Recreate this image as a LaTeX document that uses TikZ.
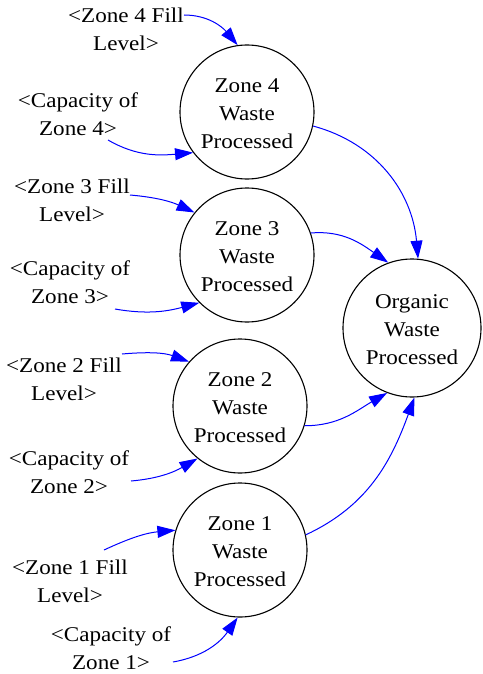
\documentclass[tikz,border=0pt]{standalone}
\usepackage{fontspec}
\setmainfont{Liberation Serif}[FakeStretch=1.1]
\usetikzlibrary{arrows.meta}
\definecolor{edgeblue}{RGB}{0,0,255}
\newcommand{\circtext}[1]{\raisebox{-3pt}[\height][\depth]{\begin{tabular}{@{}c@{}}#1\end{tabular}}}
\tikzset{
  lbl/.style={align=center, inner sep=0pt, font=\fontsize{21}{28}\selectfont},
  stock/.style={circle, draw=black, line width=1.1pt, minimum size=134pt, inner sep=0pt, align=center, font=\fontsize{21}{28}\selectfont},
  link/.style={draw=edgeblue, line width=1pt, -{Triangle[length=18pt,width=12pt]}}
}
\begin{document}
\begin{tikzpicture}[x=1pt,y=1pt]
\useasboundingbox (0,0) rectangle (482,-674);
% stocks
\node[stock] (z4) at (247,-112) {\circtext{Zone 4\\Waste\\Processed}};
\node[stock] (z3) at (247,-255) {\circtext{Zone 3\\Waste\\Processed}};
\node[stock] (z2) at (240,-406) {\circtext{Zone 2\\Waste\\Processed}};
\node[stock] (z1) at (240,-550) {\circtext{Zone 1\\Waste\\Processed}};
\node[stock, minimum size=138pt] (org) at (412,-328) {\circtext{Organic\\Waste\\Processed}};
% labels
\node[lbl] (f4) at (126,-29) {<Zone 4 Fill\\Level>};
\node[lbl] (c4) at (78,-114) {<Capacity of\\Zone 4>};
\node[lbl] (f3) at (72,-200) {<Zone 3 Fill\\Level>};
\node[lbl] (c3) at (70,-282) {<Capacity of\\Zone 3>};
\node[lbl] (f2) at (64,-379) {<Zone 2 Fill\\Level>};
\node[lbl] (c2) at (69,-472) {<Capacity of\\Zone 2>};
\node[lbl] (f1) at (70,-581) {<Zone 1 Fill\\Level>};
\node[lbl] (c1) at (111,-648) {<Capacity of\\Zone 1>};
% start points
\coordinate (sf4) at (184,-15);
\coordinate (sc4) at (108,-140);
\coordinate (sf3) at (130,-195);
\coordinate (sc3) at (115,-309);
\coordinate (sf2) at (122,-354);
\coordinate (sc2) at (131,-481);
\coordinate (sf1) at (104,-550);
\coordinate (sc1) at (173,-662);
% links
\draw[link] (sf4) to[out=0,in=130] (z4.98.7);
\draw[link] (sc4) to[out=-30,in=185] (z4.217.6);
\draw[link] (sf3) to[out=-5,in=155] (z3.141.3);
\draw[link] (sc3) to[out=-10,in=195] (z3.225.6);
\draw[link] (sf2) to[out=5,in=160] (z2.139.3);
\draw[link] (sc2) to[out=5,in=210] (z2.231.9);
\draw[link] (sf1) to[out=25,in=185] (z1.163.8);
\draw[link] (sc1) to[out=10,in=-125] (z1.268.3);
\draw[link] (z4.-12.4) to[out=-15,in=95] (org.85);
\draw[link] (z3.19) to[out=5,in=145] (org.110.9);
\draw[link] (z2.-17.9) to[out=0,in=210] (org.249.4);
\draw[link] (z1.13.4) to[out=25,in=-110] (org.272.5);
\end{tikzpicture}
\end{document}
